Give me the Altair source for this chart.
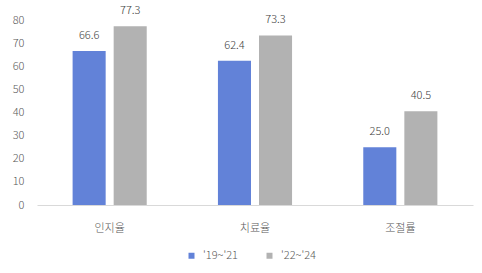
import altair as alt
import pandas as pd

categories = ["인지율", "치료율", "조절률"]
series = ["'19~'21", "'22~'24"]
values_19_21 = [66.6, 62.4, 25.0]
values_22_24 = [77.3, 73.3, 40.5]
colors = ["#6282D8", "#B2B2B2"]
y_ticks = [0, 10, 20, 30, 40, 50, 60, 70, 80]

rows = []
for c, v in zip(categories, values_19_21):
    rows.append({"category": c, "series": series[0], "value": v})
for c, v in zip(categories, values_22_24):
    rows.append({"category": c, "series": series[1], "value": v})
df = pd.DataFrame(rows)

FONT = "Noto Sans CJK KR"

y_enc = alt.Y("value:Q", title=None,
              scale=alt.Scale(domain=[0, 80], nice=False),
              axis=alt.Axis(values=y_ticks, tickCount=len(y_ticks) + 1, ticks=False,
                            domain=False, grid=False, labelOverlap=False,
                            labelPadding=13, labelFontSize=11, labelColor="#595959",
                            labelFont=FONT, labelFontWeight=300))

base = alt.Chart(df).encode(
    x=alt.X("category:N", sort=categories, title=None,
            scale=alt.Scale(paddingInner=0.49, paddingOuter=0.245),
            axis=alt.Axis(labelAngle=0, ticks=False, domain=True, domainColor="#D9D9D9",
                          domainWidth=1, labelPadding=17, labelFontSize=11,
                          labelColor="#595959", labelFont=FONT, labelFontWeight=300)),
    xOffset=alt.XOffset("series:N", sort=series,
                        scale=alt.Scale(paddingInner=0.195, paddingOuter=0)),
    y=y_enc,
)

bars = base.mark_bar().encode(
    color=alt.Color("series:N", sort=series,
                    scale=alt.Scale(domain=series, range=colors),
                    legend=alt.Legend(title=None, orient="none", direction="horizontal",
                                      legendX=149, legendY=230, symbolType="square",
                                      symbolSize=36, symbolStrokeWidth=0,
                                      labelFontSize=11, labelColor="#595959",
                                      labelFont=FONT, labelFontWeight=300,
                                      columnPadding=26, labelOffset=6)),
)

labels = base.mark_text(baseline="bottom", dy=-10, fontSize=11, color="#404040",
                        font=FONT, fontWeight=300).encode(
    text=alt.Text("value:Q", format=".1f"),
)

chart = alt.layer(bars, labels).properties(
    width=436, height=185,
    autosize=alt.AutoSizeParams(type="none"),
    padding={"left": 37, "top": 20, "right": 9, "bottom": 68},
).configure_view(stroke=None).configure_axis(grid=False)

chart.save("out.html", embed_options={"renderer": "svg", "actions": False})
